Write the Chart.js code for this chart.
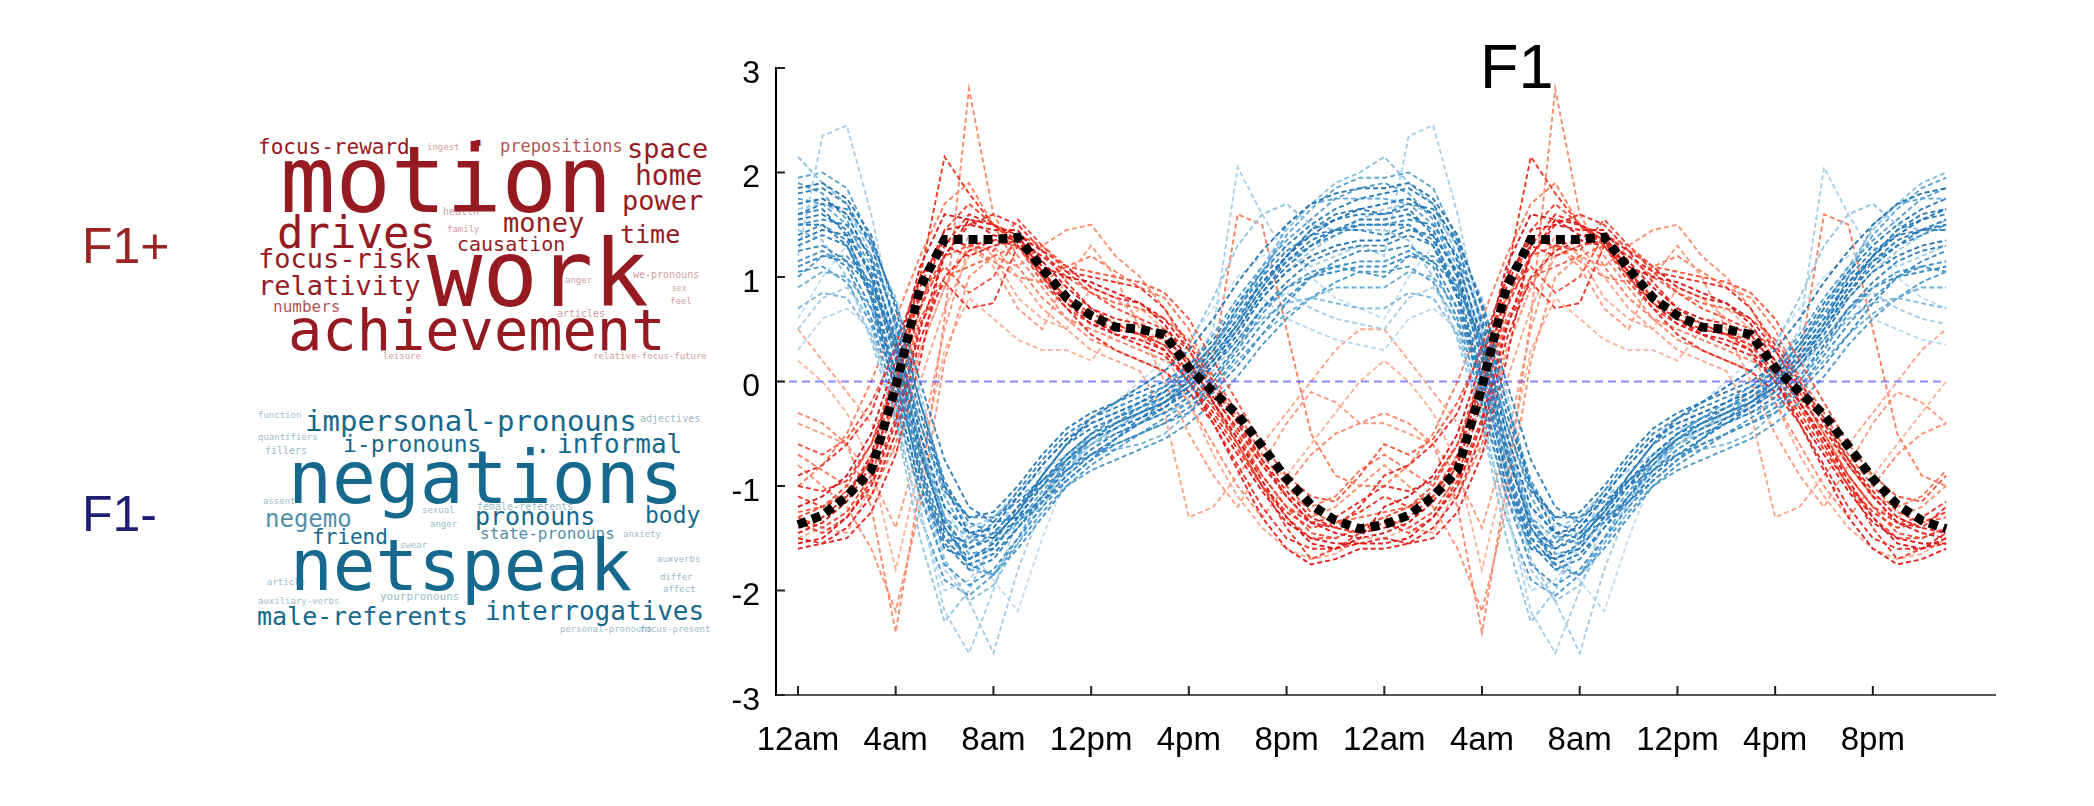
<!DOCTYPE html>
<html>
<head>
<meta charset="utf-8">
<script src="https://cdn.jsdelivr.net/npm/chart.js@4.4.1/dist/chart.umd.min.js"></script>
<style>
  html, body { margin: 0; padding: 0; background: #fff; }
  body { width: 2094px; height: 806px; position: relative; overflow: hidden; }
  #chartBox { position: absolute; left: 640px; top: 20px; width: 1400px; height: 780px; }
  .lbl { position: absolute; font-family: "Liberation Sans", Arial, sans-serif; line-height: 1; white-space: nowrap; }
  .cloud span { position: absolute; font-family: "DejaVu Sans Mono", monospace; line-height: 1; white-space: nowrap; }
  .plus span { color: #961a22; }
  .minus span { color: #16698c; }
  .cloud span.f { opacity: 0.45; }
  .cloud span.m { opacity: 0.75; }
</style>
</head>
<body>

<div class="lbl" style="left:82px; top:221px; font-size:50px; color:#9a2323;">F1+</div>
<div class="lbl" style="left:82px; top:489px; font-size:50px; color:#1f1f72;">F1-</div>
<div class="lbl" style="left:1480px; top:35px; font-size:63px; color:#000;">F1</div>

<!-- F1+ word cloud -->
<div class="cloud plus">
  <span style="left:280px; top:135px; font-size:92px;">motion</span>
  <span style="left:427px; top:229px; font-size:92px;">work</span>
  <span style="left:288px; top:302px; font-size:57px;">achievement</span>
  <span style="left:277px; top:211px; font-size:44px;">drives</span>
  <span style="left:258px; top:137px; font-size:21px;">focus-reward</span>
  <span class="m" style="left:500px; top:138px; font-size:17px;">prepositions</span>
  <span style="left:466px; top:112px; font-size:40px;">.</span>
  <span style="left:627px; top:135px; font-size:27px;">space</span>
  <span style="left:635px; top:162px; font-size:28px;">home</span>
  <span style="left:622px; top:187px; font-size:27px;">power</span>
  <span style="left:503px; top:209px; font-size:27px;">money</span>
  <span style="left:620px; top:222px; font-size:25px;">time</span>
  <span style="left:457px; top:234px; font-size:20px;">causation</span>
  <span style="left:258px; top:245px; font-size:27px;">focus-risk</span>
  <span style="left:258px; top:272px; font-size:27px;">relativity</span>
  <span class="m" style="left:273px; top:299px; font-size:16px;">numbers</span>
  <span class="f" style="left:443px; top:207px; font-size:10px;">health</span>
  <span class="f" style="left:447px; top:225px; font-size:9px;">family</span>
  <span class="f" style="left:633px; top:270px; font-size:10px;">we-pronouns</span>
  <span class="f" style="left:565px; top:276px; font-size:9px;">anger</span>
  <span class="f" style="left:672px; top:285px; font-size:8px;">sex</span>
  <span class="f" style="left:670px; top:297px; font-size:9px;">feel</span>
  <span class="f" style="left:557px; top:309px; font-size:10px;">articles</span>
  <span class="f" style="left:383px; top:352px; font-size:9px;">leisure</span>
  <span class="f" style="left:593px; top:352px; font-size:9px;">relative-focus-future</span>
  <span class="f" style="left:427px; top:143px; font-size:9px;">ingest</span>
</div>

<!-- F1- word cloud -->
<div class="cloud minus">
  <span style="left:305px; top:407px; font-size:29px;">impersonal-pronouns</span>
  <span style="left:343px; top:433px; font-size:23px;">i-pronouns</span>
  <span style="left:535px; top:431px; font-size:26px;">.</span>
  <span style="left:557px; top:431px; font-size:26px;">informal</span>
  <span style="left:288px; top:441px; font-size:73px;">negations</span>
  <span class="m" style="left:265px; top:507px; font-size:24px;">negemo</span>
  <span style="left:475px; top:504px; font-size:25px;">pronouns</span>
  <span style="left:645px; top:504px; font-size:23px;">body</span>
  <span style="left:312px; top:527px; font-size:21px;">friend</span>
  <span class="m" style="left:480px; top:526px; font-size:16px;">state-pronouns</span>
  <span class="f" style="left:477px; top:502px; font-size:10px;">female-referents</span>
  <span style="left:290px; top:530px; font-size:71px;">netspeak</span>
  <span style="left:485px; top:598px; font-size:26px;">interrogatives</span>
  <span style="left:257px; top:604px; font-size:25px;">male-referents</span>
  <span class="f" style="left:380px; top:591px; font-size:11px;">yourpronouns</span>
  <span class="f" style="left:265px; top:446px; font-size:10px;">fillers</span>
  <span class="f" style="left:640px; top:414px; font-size:10px;">adjectives</span>
  <span class="f" style="left:657px; top:555px; font-size:9px;">auxverbs</span>
  <span class="f" style="left:623px; top:530px; font-size:9px;">anxiety</span>
  <span class="f" style="left:663px; top:585px; font-size:9px;">affect</span>
  <span class="f" style="left:400px; top:541px; font-size:9px;">swear</span>
  <span class="f" style="left:422px; top:506px; font-size:9px;">sexual</span>
  <span class="f" style="left:430px; top:520px; font-size:9px;">anger</span>
  <span class="f" style="left:258px; top:411px; font-size:9px;">function</span>
  <span class="f" style="left:258px; top:433px; font-size:9px;">quantifiers</span>
  <span class="f" style="left:263px; top:497px; font-size:9px;">assent</span>
  <span class="f" style="left:258px; top:597px; font-size:9px;">auxiliary-verbs</span>
  <span class="f" style="left:560px; top:625px; font-size:9px;">personal-pronouns</span>
  <span class="f" style="left:640px; top:625px; font-size:9px;">focus-present</span>
  <span class="f" style="left:267px; top:578px; font-size:9px;">article</span>
  <span class="f" style="left:660px; top:573px; font-size:9px;">differ</span>
</div>

<div id="chartBox"><canvas id="f1Chart" width="1400" height="780"></canvas></div>

<script>
// hours along the x axis (two days, hourly)
const hours = [0,1,2,3,4,5,6,7,8,9,10,11,12,13,14,15,16,17,18,19,20,21,22,23,
               24,25,26,27,28,29,30,31,32,33,34,35,36,37,38,39,40,41,42,43,44,45,46,47];
const tickHours = [0, 4, 8, 12, 16, 20, 24, 28, 32, 36, 40, 44];
const tickLabels = ["12am", "4am", "8am", "12pm", "4pm", "8pm", "12am", "4am", "8am", "12pm", "4pm", "8pm"];

// F1 mean (one day, 12am..11pm)
const f1Mean = [-1.37,-1.28,-1.1,-0.85,-0.05,0.9,1.36,1.36,1.36,1.38,1.08,0.8,
                0.63,0.52,0.5,0.45,0.13,-0.1,-0.32,-0.62,-0.93,-1.18,-1.33,-1.41];

// words loading negatively on F1 (one day each)
const blueSeries = [
  [1.55,1.6,1.45,1.0,0.2,-0.7,-1.35,-1.6,-1.5,-1.25,-0.95,-0.7,-0.5,-0.4,-0.3,-0.2,-0.05,0.2,0.5,0.85,1.1,1.3,1.45,1.55],
  [1.7,1.75,1.6,1.15,0.4,-0.5,-1.2,-1.45,-1.4,-1.1,-0.8,-0.55,-0.4,-0.3,-0.2,-0.1,0.05,0.3,0.6,0.95,1.2,1.4,1.55,1.65],
  [1.3,1.4,1.3,0.85,0.05,-0.9,-1.55,-1.8,-1.7,-1.4,-1.1,-0.85,-0.65,-0.5,-0.4,-0.3,-0.15,0.05,0.35,0.7,0.95,1.15,1.25,1.3],
  [1.8,1.85,1.7,1.3,0.55,-0.3,-1.0,-1.3,-1.25,-1.0,-0.7,-0.45,-0.3,-0.2,-0.1,0.0,0.15,0.4,0.75,1.05,1.3,1.5,1.65,1.75],
  [1.15,1.25,1.1,0.6,-0.2,-1.1,-1.75,-1.95,-1.8,-1.5,-1.2,-0.95,-0.75,-0.6,-0.5,-0.4,-0.25,-0.05,0.25,0.55,0.8,1.0,1.1,1.15],
  [1.5,1.55,1.5,1.2,0.6,-0.2,-0.95,-1.35,-1.45,-1.35,-1.1,-0.8,-0.55,-0.4,-0.25,-0.1,0.1,0.35,0.65,0.95,1.15,1.3,1.4,1.5],
  [1.0,1.2,1.2,0.95,0.35,-0.6,-1.4,-1.75,-1.85,-1.6,-1.3,-1.0,-0.8,-0.65,-0.5,-0.35,-0.2,0.0,0.3,0.65,0.9,1.05,1.1,1.05],
  [1.6,1.65,1.4,0.8,-0.1,-1.0,-1.6,-1.7,-1.55,-1.2,-0.9,-0.6,-0.45,-0.35,-0.25,-0.15,0.0,0.25,0.55,0.9,1.2,1.45,1.6,1.65],
  [1.4,1.5,1.35,0.9,0.1,-0.8,-1.45,-1.55,-1.35,-1.05,-0.75,-0.5,-0.35,-0.25,-0.15,-0.05,0.1,0.35,0.7,1.0,1.25,1.4,1.45,1.45],
  [1.9,1.8,1.55,1.0,0.25,-0.6,-1.3,-1.65,-1.6,-1.3,-1.0,-0.7,-0.5,-0.35,-0.2,-0.05,0.15,0.45,0.8,1.1,1.35,1.55,1.75,1.85],
  [0.9,1.05,1.0,0.7,0.1,-0.7,-1.3,-1.5,-1.45,-1.2,-0.95,-0.75,-0.6,-0.5,-0.4,-0.3,-0.2,-0.05,0.2,0.45,0.65,0.8,0.9,0.9],
  [2.15,1.9,1.7,1.2,0.3,-0.8,-1.7,-2.1,-1.95,-1.55,-1.15,-0.8,-0.55,-0.4,-0.3,-0.2,0.0,0.3,0.7,1.1,1.45,1.7,1.9,2.0],
  [1.2,2.35,2.45,1.6,0.5,-1.2,-2.2,-2.6,-2.0,-1.3,-0.9,-0.6,-0.4,-0.3,-0.2,-0.1,0.1,0.5,2.05,1.6,1.2,1.1,1.2,1.3],
  [0.5,0.8,0.9,0.6,0.0,-0.9,-1.8,-2.1,-2.6,-1.8,-1.2,-0.85,-0.6,-0.45,-0.3,-0.2,-0.1,0.1,0.4,0.7,0.85,0.7,0.6,0.55],
  [1.65,1.7,1.6,1.3,0.8,-0.1,-1.0,-1.4,-1.3,-1.05,-0.85,-0.7,-0.55,-0.45,-0.35,-0.25,-0.1,0.15,0.5,0.8,1.05,1.25,1.4,1.55],
  [1.35,1.45,1.4,1.05,0.3,-0.65,-1.4,-1.7,-1.6,-1.3,-1.0,-0.75,-0.55,-0.45,-0.35,-0.25,-0.1,0.15,0.45,0.8,1.05,1.2,1.3,1.35],
  [1.75,1.7,1.5,1.1,0.45,-0.4,-1.1,-1.5,-1.55,-1.35,-1.05,-0.8,-0.6,-0.45,-0.3,-0.15,0.0,0.2,0.55,1.0,1.5,1.7,1.75,1.75],
  [0.3,0.6,0.7,0.5,-0.3,-1.3,-2.0,-1.9,-1.6,-1.35,-1.1,-0.9,-0.7,-0.55,-0.4,-0.2,0.0,0.3,0.6,0.8,0.6,0.5,0.4,0.35],
  [1.25,1.3,1.15,0.7,-0.1,-1.0,-1.5,-1.6,-1.45,-1.2,-1.0,-0.85,-0.7,-0.6,-0.5,-0.4,-0.3,-0.1,0.15,0.45,0.75,1.0,1.15,1.25],
  [1.85,1.9,1.75,1.4,0.7,-0.2,-1.0,-1.45,-1.5,-1.25,-0.9,-0.6,-0.35,-0.2,-0.05,0.1,0.3,0.6,0.95,1.25,1.5,1.7,1.8,1.85],
  [1.05,1.1,0.95,0.55,-0.35,-1.3,-1.9,-2.05,-1.85,-1.55,-1.25,-1.0,-0.85,-0.75,-0.65,-0.55,-0.4,-0.2,0.05,0.35,0.6,0.8,0.95,1.05],
  [0.7,0.85,0.8,0.45,-0.25,-1.1,-1.6,-1.5,-1.3,-1.1,-0.95,-0.8,-0.7,-0.65,-0.6,-0.5,-0.3,0.0,0.35,0.6,0.75,0.8,0.75,0.7],
  [1.6,1.7,1.65,1.35,0.75,0.0,-0.75,-1.2,-1.35,-1.3,-1.15,-0.95,-0.75,-0.55,-0.35,-0.2,0.0,0.25,0.55,0.9,1.2,1.45,1.55,1.6],
  [1.45,1.35,1.0,0.4,-0.4,-1.5,-2.3,-2.0,-1.5,-1.1,-0.8,-0.55,-0.35,-0.2,-0.05,0.1,0.35,0.8,1.3,1.6,1.7,1.5,1.45,1.45],
  [1.5,1.5,1.3,0.8,0.0,-0.85,-1.5,-1.75,-1.65,-1.4,-1.15,-0.9,-0.7,-0.55,-0.4,-0.25,-0.05,0.2,0.5,0.85,1.15,1.35,1.45,1.5],
  [0.6,1.0,1.3,1.0,0.2,-0.6,-1.2,-1.6,-1.9,-2.2,-1.5,-0.9,-0.5,-0.2,0.0,0.2,0.4,0.7,1.0,1.2,1.3,1.0,0.8,0.7],
  [1.95,2.0,1.85,1.35,0.5,-0.5,-1.3,-1.8,-1.85,-1.5,-1.1,-0.75,-0.5,-0.35,-0.25,-0.15,0.05,0.35,0.7,1.05,1.4,1.65,1.85,1.95],
  [1.1,1.2,1.15,0.9,0.4,-0.4,-1.05,-1.3,-1.3,-1.15,-0.95,-0.75,-0.55,-0.4,-0.3,-0.2,-0.05,0.15,0.4,0.7,0.9,1.0,1.05,1.1]
];

// words loading positively on F1 (one day each)
const redSeries = [
  [-1.45,-1.35,-1.15,-0.8,-0.1,0.9,1.45,1.5,1.45,1.45,1.15,0.9,0.7,0.6,0.55,0.45,0.15,-0.15,-0.45,-0.8,-1.1,-1.35,-1.45,-1.5],
  [-1.2,-1.1,-0.9,-0.5,0.2,1.1,1.6,1.55,1.4,1.35,1.1,1.0,0.95,0.85,0.75,0.55,0.2,-0.2,-0.55,-0.95,-1.3,-1.55,-1.6,-1.5],
  [-1.55,-1.5,-1.3,-1.0,-0.4,0.5,1.2,1.55,1.5,1.4,1.05,0.75,0.55,0.45,0.4,0.3,0.0,-0.35,-0.7,-1.05,-1.35,-1.5,-1.55,-1.55],
  [-0.9,-0.8,-0.6,-0.3,0.35,1.0,1.3,1.2,1.3,1.35,1.2,1.05,1.0,0.95,0.9,0.7,0.35,0.0,-0.35,-0.75,-1.1,-1.35,-1.4,-1.2],
  [-1.35,-1.45,-1.3,-0.95,-0.35,0.55,0.95,0.7,0.75,1.3,1.0,0.75,0.6,0.5,0.45,0.35,0.05,-0.25,-0.6,-1.0,-1.4,-1.7,-1.6,-1.45],
  [-1.1,-1.2,-1.1,-0.75,0.0,1.0,2.15,1.8,1.5,1.35,1.05,0.8,0.65,0.55,0.45,0.3,0.0,-0.3,-0.65,-1.0,-1.25,-1.4,-1.35,-1.25],
  [-0.6,-0.7,-0.55,-0.2,0.3,0.8,1.1,0.85,1.0,1.4,1.3,1.1,1.05,1.0,0.95,0.85,0.6,0.2,-0.2,-0.6,-0.9,-1.1,-1.15,-0.9],
  [-1.5,-1.55,-1.5,-1.25,-0.7,0.2,1.3,1.6,1.5,1.35,1.0,0.7,0.45,0.3,0.2,0.1,-0.1,-0.4,-0.8,-1.2,-1.5,-1.6,-1.6,-1.55],
  [-0.3,-0.4,-0.6,-1.2,-2.4,-1.0,0.6,2.8,1.6,1.2,0.9,0.6,0.4,0.3,0.2,0.1,-0.2,-0.6,-1.0,-1.3,-1.0,-0.7,-0.5,-0.4],
  [-0.8,-1.0,-1.2,-1.6,-2.2,-1.2,0.2,1.0,1.2,1.1,1.3,1.45,1.5,1.2,1.0,0.7,0.3,-0.1,-0.5,-0.9,-1.2,-1.3,-1.2,-1.0],
  [0.5,0.2,-0.1,-0.4,-0.7,0.0,0.7,1.2,1.3,1.0,0.7,0.5,0.3,0.2,0.1,-0.3,-1.3,-1.2,-0.9,-0.6,-0.3,0.0,0.3,0.5],
  [-1.0,-0.8,-0.5,0.0,0.6,1.2,1.7,1.9,1.5,1.1,0.8,0.6,0.5,0.4,0.3,0.2,0.1,0.2,1.6,1.5,0.5,-0.5,-0.9,-1.0],
  [-1.3,-1.2,-1.0,-0.6,0.1,0.8,1.2,1.3,1.25,1.55,1.3,1.05,0.85,0.7,0.6,0.5,0.3,-0.1,-0.5,-0.9,-1.2,-1.45,-1.5,-1.4],
  [-1.5,-1.4,-1.45,-1.0,-0.5,0.3,0.9,1.4,1.2,0.8,0.6,0.5,0.9,0.8,0.6,0.3,-0.2,-0.7,-1.1,-1.4,-1.6,-1.7,-1.65,-1.5],
  [-1.4,-1.3,-1.1,-0.7,0.1,1.0,1.35,1.3,1.35,1.4,1.25,1.1,0.9,0.8,0.75,0.6,0.3,-0.05,-0.4,-0.75,-1.05,-1.3,-1.4,-1.45],
  [-1.0,-1.05,-0.95,-0.6,0.0,0.7,1.2,1.5,1.6,1.5,1.25,0.95,0.7,0.55,0.45,0.35,0.1,-0.2,-0.55,-0.9,-1.2,-1.35,-1.3,-1.15],
  [-0.4,-0.5,-0.6,-0.9,-1.4,-0.6,0.5,1.3,1.1,0.7,0.5,1.0,1.3,1.0,0.5,0.0,-0.5,-0.9,-1.2,-0.8,-0.4,-0.1,-0.2,-0.4],
  [-1.25,-1.2,-1.05,-0.75,-0.2,0.6,1.0,1.1,1.2,1.3,1.2,1.0,0.85,0.75,0.7,0.6,0.4,0.05,-0.3,-0.7,-1.0,-1.25,-1.35,-1.3],
  [0.2,0.0,-0.3,-0.8,-1.8,-0.8,0.3,0.8,0.6,0.4,0.3,0.3,0.2,0.5,0.7,0.5,0.2,-0.2,-0.5,-0.8,-0.9,-0.6,-0.3,0.0],
  [-1.6,-1.55,-1.4,-1.1,-0.5,0.4,1.0,1.25,1.35,1.3,1.05,0.8,0.6,0.45,0.35,0.25,0.0,-0.4,-0.85,-1.3,-1.6,-1.75,-1.7,-1.6],
  [-0.7,-0.85,-1.0,-1.1,-0.6,0.3,0.9,1.3,1.15,1.0,0.95,1.1,1.2,1.05,0.9,0.8,0.5,0.0,-0.4,-0.8,-1.1,-1.2,-1.1,-0.85],
  [-1.3,-1.4,-1.25,-0.9,-0.2,0.7,1.45,1.7,1.5,1.3,0.95,0.7,0.55,0.5,0.45,0.4,0.2,-0.2,-0.6,-1.0,-1.3,-1.5,-1.5,-1.4]
];

// line shades (dark = strong loading, light = weak)
const blueColors = ["#2c7bb6","#2171b5","#3182bd","#2c7fb8","#4292c6","#3a8cc4","#4a98cc","#2f7fbc","#3b88c0",
                    "#5aa0d0","#6baed6","#8cc0e0","#a8d0ea","#a6cde6","#9ac7e4","#2a78b3","#5ea5d3","#b8d8ee",
                    "#3d8ac2","#2b77b0","#4e9acb","#7fb6dc","#3584be","#94c4e3","#2e7db9","#c3ddf0","#5fa6d4","#3c89c1"];
const redColors = ["#e0201f","#d7191c","#e31a1c","#e8302a","#ef3b2c","#f03b20","#f5583f","#e42e25",
                   "#fb8a6f","#fc9272","#fca58a","#fb8060","#f4513a","#fcab90",
                   "#dc2222","#e6372d","#fb9d80","#f6644a","#fcb49b","#e3231f","#fa7b5c","#f24a35"];

// the figure shows the same day twice
function twoDays(day) {
  const full = day.concat(day);
  return hours.map((h, i) => ({ x: h, y: full[i] }));
}

function isLight(hex) {
  const r = parseInt(hex.slice(1, 3), 16), g = parseInt(hex.slice(3, 5), 16), b = parseInt(hex.slice(5, 7), 16);
  return (r + g + b) / 3 > 140;
}

function wordLine(day, color) {
  return {
    data: twoDays(day),
    borderColor: color,
    borderWidth: 1.9,
    borderDash: [5, 3],
    order: isLight(color) ? 4 : 3
  };
}

const datasets = [];
datasets.push({
  data: twoDays(f1Mean),
  borderColor: "#000",
  borderWidth: 9,
  borderDash: [9, 6],
  borderCapStyle: "butt",
  order: 0
});
datasets.push({
  data: [{ x: -0.9, y: 0 }, { x: 47, y: 0 }],
  borderColor: "rgba(90, 90, 255, 0.7)",
  borderWidth: 2,
  borderDash: [8, 5],
  order: 1
});
blueSeries.forEach((s, i) => datasets.push(wordLine(s, blueColors[i])));
redSeries.forEach((s, i) => datasets.push(wordLine(s, redColors[i])));

// small tick marks pointing into the plot
const inwardTicks = {
  id: "inwardTicks",
  afterDatasetsDraw(chart) {
    const { ctx, chartArea, scales } = chart;
    ctx.save();
    ctx.strokeStyle = "#222";
    ctx.lineWidth = 2;
    scales.x.ticks.forEach(t => {
      const px = scales.x.getPixelForValue(t.value);
      ctx.beginPath();
      ctx.moveTo(px, chartArea.bottom);
      ctx.lineTo(px, chartArea.bottom - 9);
      ctx.stroke();
    });
    scales.y.ticks.forEach(t => {
      const py = scales.y.getPixelForValue(t.value);
      ctx.beginPath();
      ctx.moveTo(chartArea.left, py);
      ctx.lineTo(chartArea.left + 9, py);
      ctx.stroke();
    });
    ctx.restore();
  }
};

new Chart(document.getElementById("f1Chart"), {
  type: "line",
  data: { datasets },
  plugins: [inwardTicks],
  options: {
    responsive: false,
    animation: false,
    devicePixelRatio: 1,
    layout: { padding: { top: 48, right: 45, left: 0, bottom: 0 } },
    elements: { point: { radius: 0 }, line: { tension: 0 } },
    plugins: {
      legend: { display: false },
      tooltip: { enabled: false },
      title: { display: false }
    },
    scales: {
      x: {
        type: "linear",
        min: -0.9,
        max: 49,
        afterBuildTicks: axis => { axis.ticks = tickHours.map(v => ({ value: v })); },
        afterFit: axis => { axis.height = 105; },
        ticks: {
          callback: (v, i) => tickLabels[i],
          color: "#000",
          font: { family: "Liberation Sans, Arial, sans-serif", size: 33 },
          padding: 26,
          maxRotation: 0,
          autoSkip: false
        },
        grid: { drawOnChartArea: false, drawTicks: false },
        border: { color: "#555", width: 2 }
      },
      y: {
        min: -3,
        max: 3,
        afterFit: axis => { axis.width = 136; },
        ticks: {
          stepSize: 1,
          color: "#000",
          font: { family: "Liberation Sans, Arial, sans-serif", size: 32 },
          padding: 16,
          labelOffset: 6
        },
        grid: { drawOnChartArea: false, drawTicks: false },
        border: { color: "#000", width: 2 }
      }
    }
  }
});
</script>
</body>
</html>
